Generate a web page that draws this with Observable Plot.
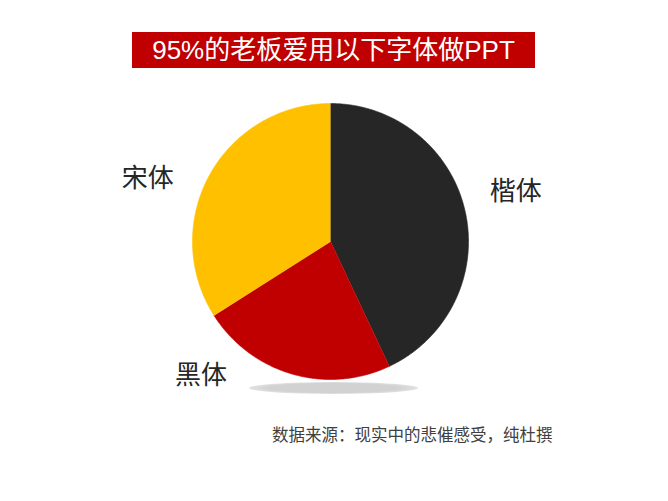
<!DOCTYPE html>
<html>
<head>
<meta charset="utf-8">
<script src="https://cdn.jsdelivr.net/npm/d3@7"></script>
<script src="https://cdn.jsdelivr.net/npm/@observablehq/plot@0.6"></script>
<style>
  html, body { margin: 0; padding: 0; background: #fff; }
  #wrap { position: relative; width: 668px; height: 501px; overflow: hidden; font-family: "Noto Sans CJK SC", sans-serif; }
  #chart { position: absolute; left: 0; top: 0; z-index: 1; }
  #title { position: absolute; z-index: 2; left: 132px; top: 32px; width: 403px; height: 36px; background: #C00000; color: #fff;
           font-family: "Liberation Sans", "Noto Sans CJK SC", sans-serif; font-size: 26px; line-height: 37px; text-align: center; }
  #shadow { position: absolute; z-index: 2; left: 249px; top: 382px; width: 169px; height: 12px; border-radius: 50%;
            background: radial-gradient(ellipse at center, #d2d2d2 55%, rgba(225,225,225,0) 100%); }
  #caption { position: absolute; z-index: 2; left: 272px; top: 423px; font-size: 16.5px; line-height: 22px; color: #404040; white-space: nowrap; }
</style>
</head>
<body>
<div id="wrap">
  <div id="chart"></div>
  <div id="title"></div>
  <div id="shadow"></div>
  <div id="caption"></div>
</div>
<script>
// ---- data ----
const titleText = "95%的老板爱用以下字体做PPT";
const captionText = "数据来源：现实中的悲催感受，纯杜撰";
const categories = ["楷体", "黑体", "宋体"];
const values = [43, 23, 34];
const colors = ["#262626", "#C00000", "#FFC000"];

// ---- layout (pixels / label placement) ----
const W = 668, H = 501;
const cx = 330, cy = 241, R = 138;
const labelAngle = {"楷体": 75, "黑体": 224, "宋体": 289}; // degrees clockwise from 12 o'clock
const labelRadius = {"楷体": 1.39, "黑体": 1.35, "宋体": 1.40};

document.getElementById("title").textContent = titleText;
document.getElementById("caption").textContent = captionText;

const arcs = d3.pie().sort(null).value(d => d)(values);
const pts = [];
arcs.forEach((a, i) => {
  const name = categories[i];
  pts.push({name, x: 0, y: 0});
  const n = Math.max(2, Math.ceil((a.endAngle - a.startAngle) / (Math.PI / 360)));
  for (let k = 0; k <= n; k++) {
    const t = a.startAngle + (a.endAngle - a.startAngle) * k / n;
    pts.push({name, x: Math.sin(t), y: Math.cos(t)});
  }
});

const labels = categories.map(name => {
  const t = labelAngle[name] * Math.PI / 180;
  return {name, x: labelRadius[name] * Math.sin(t), y: labelRadius[name] * Math.cos(t)};
});

const chart = Plot.plot({
  width: W, height: H,
  margin: 0,
  style: {background: "transparent"},
  x: {domain: [-cx / R, (W - cx) / R], axis: null},
  y: {domain: [-(H - cy) / R, cy / R], axis: null},
  color: {domain: categories, range: colors},
  marks: [
    Plot.line(pts, {x: "x", y: "y", z: "name", fill: "name", stroke: "name", strokeWidth: 0.6, curve: "linear"}),
    Plot.text(labels, {x: "x", y: "y", text: "name", fontSize: 26, fill: "#262626",
                       fontFamily: "Noto Sans CJK SC", textAnchor: "middle", lineAnchor: "middle"})
  ]
});
document.getElementById("chart").appendChild(chart);
</script>
</body>
</html>
